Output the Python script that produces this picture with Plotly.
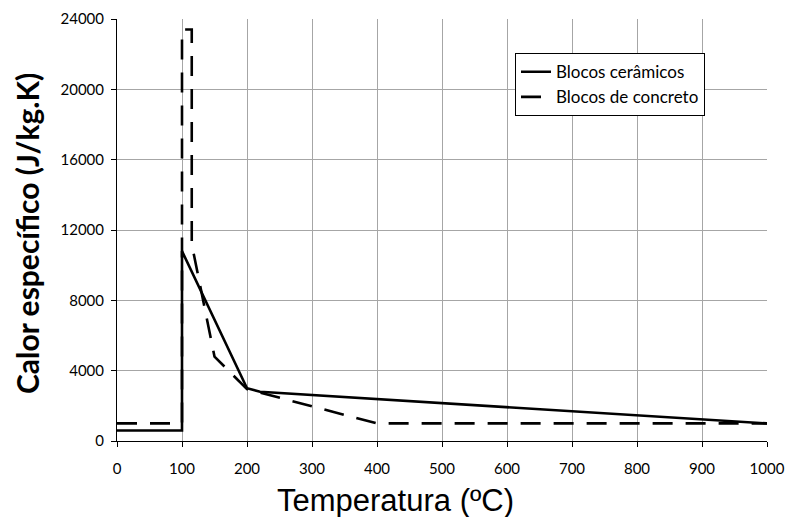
import plotly.graph_objects as go

# Blocos cerâmicos (solid)
cer_temp = [0, 100, 100, 200, 220, 1000]
cer_cp = [600, 600, 10800, 3000, 2800, 1000]

# Blocos de concreto (dashed)
con_temp = [0, 100, 100, 115, 115, 150, 200, 400, 1000]
con_cp = [1000, 1000, 23400, 23400, 11200, 4800, 2950, 1000, 1000]

x_ticks = list(range(0, 1001, 100))
y_ticks = list(range(0, 24001, 4000))

FONT = "Lato"

fig = go.Figure()
fig.add_trace(go.Scatter(x=cer_temp, y=cer_cp, mode="lines", name="Blocos cerâmicos",
                         line=dict(color="black", width=2.6)))
fig.add_trace(go.Scatter(x=con_temp, y=con_cp, mode="lines", name="Blocos de concreto",
                         line=dict(color="black", width=2.6, dash="20px,13px")))

fig.update_layout(
    width=785, height=517,
    margin=dict(l=117, r=18, t=19, b=76, autoexpand=False),
    paper_bgcolor="white", plot_bgcolor="white",
    font=dict(family=FONT, size=15, color="black"),
    showlegend=True,
    legend=dict(x=(515 - 117) / 650, y=0.919, xanchor="left", yanchor="top",
                bordercolor="black", borderwidth=1, bgcolor="white",
                entrywidth=165, entrywidthmode="pixels",
                font=dict(family=FONT, size=17), tracegroupgap=2),
    xaxis=dict(range=[0, 1000], tickvals=x_ticks, ticktext=[str(v) for v in x_ticks],
               showgrid=True, gridcolor="#a6a6a6", gridwidth=1,
               showline=True, linecolor="black", linewidth=1,
               ticks="outside", ticklen=5, tickcolor="black", automargin=False,
               ticklabelstandoff=9,
               tickfont=dict(family=FONT, size=15), zeroline=False),
    yaxis=dict(range=[0, 24000], tickvals=y_ticks, ticktext=[str(v) for v in y_ticks],
               showgrid=True, gridcolor="#a6a6a6", gridwidth=1,
               showline=True, linecolor="black", linewidth=1,
               ticks="outside", ticklen=5, tickcolor="black", automargin=False,
               ticklabelstandoff=4,
               tickfont=dict(family=FONT, size=15), zeroline=False),
    annotations=[
        dict(text="Temperatura (ºC)", xref="paper", yref="paper",
             x=(395 - 117) / 650, y=-(501 - 441) / 422, xanchor="center", yanchor="middle",
             showarrow=False, font=dict(family="Liberation Sans", size=31, color="black")),
        dict(text="<b>Calor específico (J/kg.K)</b>", xref="paper", yref="paper",
             x=-(117 - 27) / 650, y=(441 - 234) / 422, xanchor="center", yanchor="middle",
             textangle=-90, showarrow=False,
             font=dict(family=FONT, size=30, color="black")),
    ],
)

fig.write_html("out.html")
